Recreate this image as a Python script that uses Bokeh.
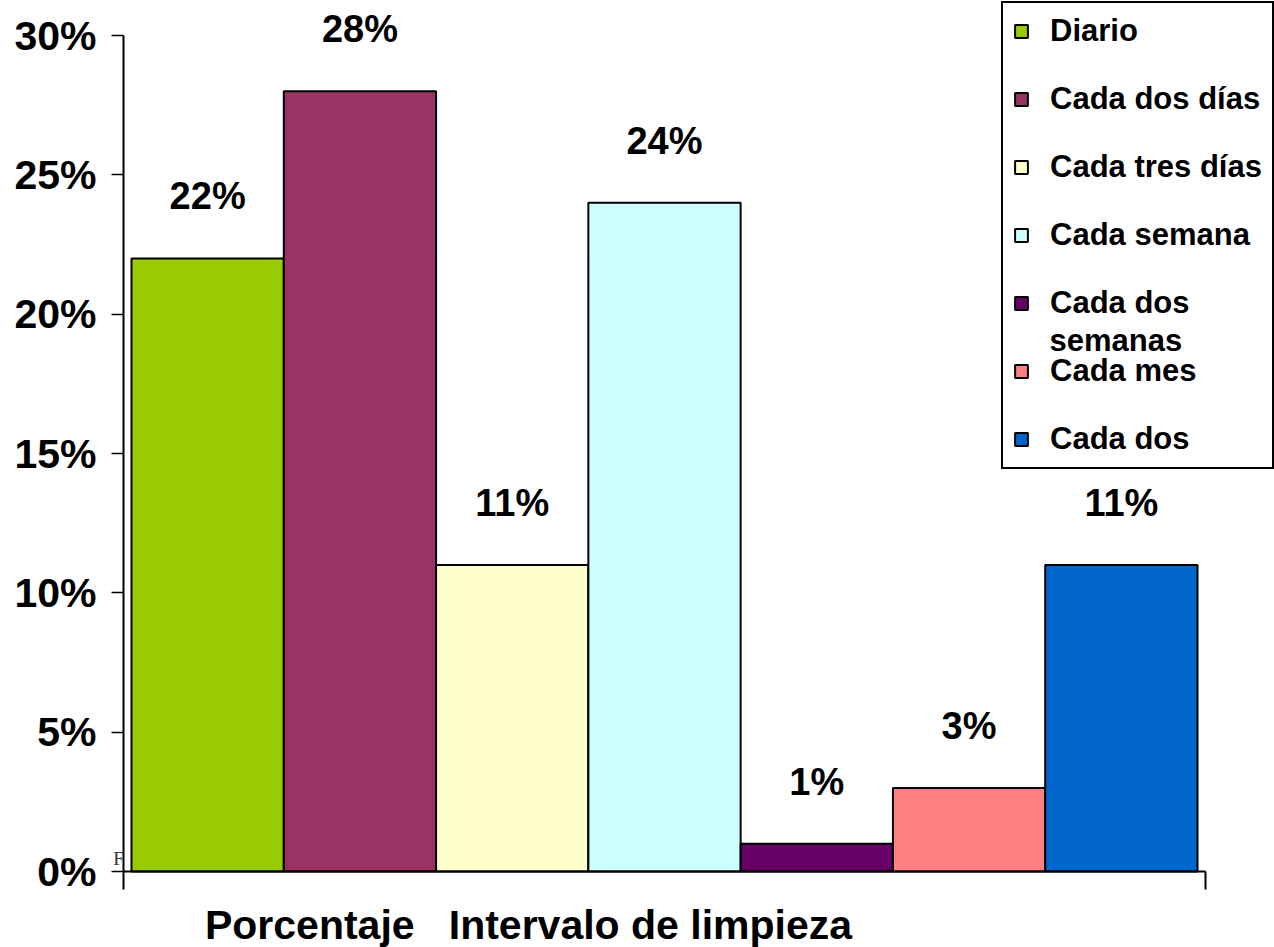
from bokeh.plotting import figure
from bokeh.models import (ColumnDataSource, Range1d, FixedTicker, PrintfTickFormatter,
                          CustomJSTickFormatter, Legend, LegendItem, LabelSet, Label)
from bokeh.core.properties import value
from bokeh.embed import file_html
from bokeh.resources import INLINE

categories = ["Diario", "Cada dos días", "Cada tres días", "Cada semana",
              "Cada dos semanas", "Cada mes", "Cada dos meses"]
values = [22, 28, 11, 24, 1, 3, 11]
colors = ["#99CC00", "#993366", "#FFFFCC", "#CCFFFF", "#660066", "#FF8080", "#0066CC"]
y_ticks = [0, 5, 10, 15, 20, 25, 30]
legend_labels = ["Diario", "Cada dos días", "Cada tres días", "Cada semana",
                 "Cada dos", "Cada mes", "Cada dos"]
axis_title = "Porcentaje \u00a0\u00a0Intervalo de limpieza"

FONT = "Liberation Sans"
n = len(values)
xs = [i + 0.5 for i in range(n)]
labels = ["%d%%" % v for v in values]
src = ColumnDataSource(dict(x=xs, top=values, color=colors, name=categories, lab=labels))

# ---- layout (pixels) ----
W, H = 1274, 947
AX_LEFT, AX_RIGHT = 123, 1205      # x-axis line extent
BAR_L, BAR_R = 131, 1197           # bars extent
Y0_PX, Y30_PX = 871, 35            # pixel rows of 0% and 30%
bar_px = (BAR_R - BAR_L) / n
gap = (BAR_L - AX_LEFT) / bar_px
x_axis_left = -gap
x_start = x_axis_left - AX_LEFT / bar_px
x_end = x_start + W / bar_px
px_per_unit = (Y0_PX - Y30_PX) / 30.0
y_start = -(H - Y0_PX) / px_per_unit
y_end = Y0_PX / px_per_unit

p = figure(width=W, height=H, output_backend="svg", toolbar_location=None,
           x_range=Range1d(x_start, x_end), y_range=Range1d(y_start, y_end),
           min_border=0, min_border_left=0, min_border_right=0,
           min_border_top=0, min_border_bottom=0)
p.outline_line_color = None
p.xgrid.visible = False
p.ygrid.visible = False
p.background_fill_color = "white"
p.border_fill_color = "white"

r = p.vbar(x="x", top="top", bottom=0, width=1.0, fill_color="color",
           line_color="black", line_width=2, source=src)

# y axis
ya = p.yaxis[0]
ya.fixed_location = x_axis_left
ya.bounds = (0, 30)
ya.ticker = FixedTicker(ticks=y_ticks)
ya.formatter = PrintfTickFormatter(format="%d%%")
ya.major_label_text_font = FONT
ya.major_label_text_font_style = "bold"
ya.major_label_text_font_size = "41px"
ya.major_label_text_color = "black"
ya.major_tick_out = 12
ya.major_tick_in = 0
ya.minor_tick_out = 0
ya.minor_tick_in = 0
ya.major_label_standoff = 15
ya.axis_line_width = 2
ya.major_tick_line_width = 1.5

# x axis
xa = p.xaxis[0]
xa.fixed_location = 0
xa.bounds = (x_axis_left, n + gap)
xa.ticker = FixedTicker(ticks=[x_axis_left, n + gap])
xa.formatter = CustomJSTickFormatter(code="return ''")
xa.major_tick_out = 18
xa.major_tick_in = 0
xa.minor_tick_out = 0
xa.minor_tick_in = 0
xa.axis_line_width = 2
xa.major_tick_line_width = 2

# data labels
ls = LabelSet(x="x", y="top", text="lab", source=src, y_offset=62,
              text_align="center", text_baseline="middle",
              text_font=value(FONT), text_font_style="bold", text_font_size="38px",
              text_color="black")
p.add_layout(ls)

# second line of the fifth legend entry (drawn beneath a see-through legend)
p.add_layout(Label(x=1049, y=H - 340, x_units="screen", y_units="screen", text="semanas",
                   text_font=FONT, text_font_style="bold", text_font_size="31px",
                   text_baseline="middle", text_align="left", text_color="black"))

# legend (location = bottom-left corner, measured from the bottom)
items = [LegendItem(label=legend_labels[i], renderers=[r], index=i) for i in range(n)]
leg = Legend(items=items, location=(1001, H - 469), glyph_width=16, glyph_height=16,
             label_standoff=21, padding=10, spacing=32, margin=0,
             label_text_font=FONT, label_text_font_style="bold", label_text_font_size="31px",
             label_text_color="black", border_line_color="black", border_line_width=2,
             border_line_alpha=1.0, background_fill_alpha=0.0)
p.add_layout(leg, "center")

# axis title
p.add_layout(Label(x=528, y=H - 924, x_units="screen", y_units="screen", text=axis_title,
                   text_font=FONT, text_font_style="bold", text_font_size="41px",
                   text_baseline="middle", text_align="center", text_color="black"))

# small stray mark near the origin
p.add_layout(Label(x=118, y=H - 858, x_units="screen", y_units="screen", text="F",
                   text_font="Liberation Serif", text_font_size="19px",
                   text_baseline="middle", text_align="center", text_color="#333333"))

open("out.html", "w").write(file_html(p, INLINE))
